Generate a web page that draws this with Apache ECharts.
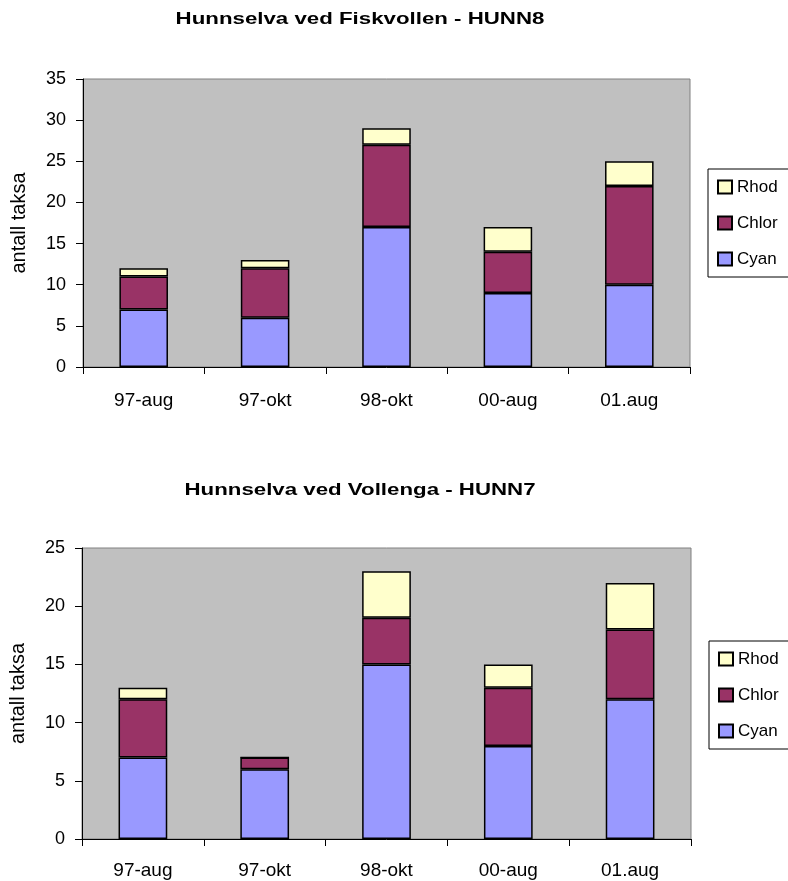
<!DOCTYPE html>
<html>
<head>
<meta charset="utf-8">
<script src="https://cdn.jsdelivr.net/npm/echarts@6/dist/echarts.min.js"></script>
<style>html,body{margin:0;padding:0;background:#fff}#c{width:788px;height:881px}</style>
</head>
<body>
<div id="c"></div>
<script>
var categories = ['97-aug', '97-okt', '98-okt', '00-aug', '01.aug'];
var seriesNames = ['Cyanophyceae', 'Chlorophyceae', 'Rhodophyceae'];
var titles = ['Hunnselva ved Fiskvollen - HUNN8', 'Hunnselva ved Vollenga - HUNN7'];
var yName = 'antall taksa';
// Chart 1: HUNN8
var hunn8Cyan = [7, 6, 17, 9, 10];
var hunn8Chlor = [4, 6, 10, 5, 12];
var hunn8Rhod = [1, 1, 2, 3, 3];
// Chart 2: HUNN7
var hunn7Cyan = [7, 6, 15, 8, 12];
var hunn7Chlor = [5, 1, 4, 5, 6];
var hunn7Rhod = [1, 0, 4, 2, 4];
var yMax = [35, 25];
var yInterval = 5;

var colors = ['#9999FF', '#993366', '#FFFFCC'];
var FONT = '"Liberation Sans", Arial, sans-serif';

var grids = [
  {left: 83, top: 79, width: 607, height: 288},
  {left: 82, top: 548, width: 609, height: 291}
];
var legendPos = [{left: 708, top: 169}, {left: 709, top: 641}];
var titleY = [19.5, 490.5];
var xLabelMargin = [24, 22];
var data = [[hunn8Cyan, hunn8Chlor, hunn8Rhod], [hunn7Cyan, hunn7Chlor, hunn7Rhod]];

var option = {
  animation: false,
  backgroundColor: '#ffffff',
  graphic: titles.map(function (t, i) {
    return {
      type: 'text', x: 360, y: titleY[i], scaleX: 1.31, scaleY: 1,
      style: {text: t, fill: '#000', font: 'bold 17px "Liberation Sans", Arial, sans-serif', textAlign: 'center', textVerticalAlign: 'middle'}
    };
  }),
  grid: grids.map(function (g) {
    return Object.assign({show: true, backgroundColor: '#C0C0C0', borderColor: '#808080', borderWidth: 1, containLabel: false, outerBoundsMode: 'none'}, g);
  }),
  legend: legendPos.map(function (p) {
    return {
      orient: 'vertical', left: p.left, top: p.top,
      data: seriesNames.slice().reverse(),
      backgroundColor: '#ffffff', borderColor: '#000', borderWidth: 1,
      padding: [9, 30, 9, 9], itemGap: 18, itemWidth: 14, itemHeight: 13,
      icon: 'rect',
      textStyle: {fontFamily: FONT, fontSize: 17, color: '#000', lineHeight: 18, width: 45, overflow: 'truncate', ellipsis: ''}
    };
  }),
  xAxis: grids.map(function (g, i) {
    return {
      type: 'category', gridIndex: i, data: categories,
      axisLine: {lineStyle: {color: '#000', width: 1}},
      axisTick: {show: true, length: 7, lineStyle: {color: '#000'}},
      axisLabel: {fontFamily: FONT, fontSize: 19, color: '#000', margin: xLabelMargin[i]},
      splitLine: {show: false}
    };
  }),
  yAxis: grids.map(function (g, i) {
    return {
      type: 'value', gridIndex: i, min: 0, max: yMax[i], interval: yInterval,
      name: yName, nameLocation: 'middle', nameGap: 54,
      nameTextStyle: {fontFamily: FONT, fontSize: 20, color: '#000'},
      axisLine: {show: true, lineStyle: {color: '#000', width: 1}},
      axisTick: {show: true, length: 7, lineStyle: {color: '#000'}},
      axisLabel: {fontFamily: FONT, fontSize: 18, color: '#000', margin: 17},
      splitLine: {show: false}
    };
  }),
  series: []
};

data.forEach(function (set, gi) {
  set.forEach(function (vals, si) {
    option.series.push({
      type: 'bar', name: seriesNames[si], xAxisIndex: gi, yAxisIndex: gi,
      stack: 'g' + gi, data: vals, barWidth: '40%',
      itemStyle: {color: colors[si], borderColor: '#000', borderWidth: 1.5},
      emphasis: {disabled: true}
    });
  });
});

var chart = echarts.init(document.getElementById('c'), null, {renderer: 'canvas'});
chart.setOption(option);
</script>
</body>
</html>
